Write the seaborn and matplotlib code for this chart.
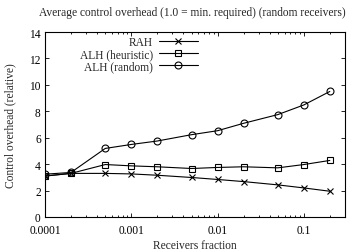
import matplotlib
matplotlib.use("Agg")
import matplotlib.pyplot as plt
import matplotlib.ticker as mticker
import seaborn as sns

# receivers fraction (x) and relative control overhead per scheme
fractions = [0.0001, 0.0002, 0.0005, 0.001, 0.002, 0.005, 0.01, 0.02, 0.05, 0.1, 0.2]
rah = [3.1, 3.3, 3.3, 3.26, 3.16, 2.99, 2.84, 2.68, 2.43, 2.2, 1.95]
alh_heuristic = [3.1, 3.3, 3.97, 3.87, 3.8, 3.67, 3.75, 3.8, 3.72, 3.97, 4.28]
alh_random = [3.24, 3.37, 5.19, 5.49, 5.75, 6.23, 6.53, 7.09, 7.75, 8.48, 9.5]

series = [("RAH", rah, "x"),
          ("ALH (heuristic)", alh_heuristic, "s"),
          ("ALH (random)", alh_random, "o")]
x_ticks = [0.0001, 0.001, 0.01, 0.1]
x_ticklabels = ["0.0001", "0.001", "0.01", "0.1"]
y_ticks = [0, 2, 4, 6, 8, 10, 12, 14]

sns.set_style("ticks")
plt.rcParams["font.family"] = ["Liberation Serif", "DejaVu Serif"]
plt.rcParams["xtick.direction"] = "in"
plt.rcParams["ytick.direction"] = "in"

FS = 8.3

fig = plt.figure(figsize=(3.52, 2.51), dpi=100)
ax = fig.add_axes([45 / 352, 33 / 251, 300 / 352, 185 / 251])

for name, vals, mk in series:
    sns.lineplot(x=fractions, y=vals, ax=ax, color="black", lw=0.8,
                 marker=mk, markersize=5, mfc="none", mec="black",
                 mew=0.8, label=name)

ax.set_xscale("log")
ax.set_xlim(0.0001, 0.3)
ax.set_ylim(0, 14)
ax.set_xticks(x_ticks)
ax.xaxis.set_major_formatter(mticker.FixedFormatter(x_ticklabels))
ax.xaxis.set_minor_locator(mticker.LogLocator(base=10, subs=range(2, 10)))
ax.xaxis.set_minor_formatter(mticker.NullFormatter())
ax.set_yticks(y_ticks)

ax.tick_params(which="both", top=True, right=True, labelsize=FS,
               width=0.6, pad=3, colors="black")
ax.tick_params(axis="x", which="both", pad=5)
ax.tick_params(which="major", length=3)
ax.tick_params(which="minor", length=1.6)
for s in ax.spines.values():
    s.set_linewidth(0.8)
    s.set_color("black")

ax.set_xlabel("Receivers fraction", fontsize=FS, labelpad=2)
ax.set_ylabel("Control overhead (relative)", fontsize=FS, labelpad=9)
fig.text(192 / 352, 1 - 13 / 251, "Average control overhead (1.0 = min. required) (random receivers)",
         ha="center", va="center", fontsize=FS)

handles, labels = ax.get_legend_handles_labels()
ax.legend(handles, labels, loc="upper right", markerfirst=False, frameon=False,
          bbox_to_anchor=(198 / 352, 1 - 37.5 / 251), bbox_transform=fig.transFigure,
          fontsize=FS, handlelength=3.4, handletextpad=0.5, labelspacing=0.0,
          borderpad=0, borderaxespad=0)

fig.savefig("out.png", dpi=100)
